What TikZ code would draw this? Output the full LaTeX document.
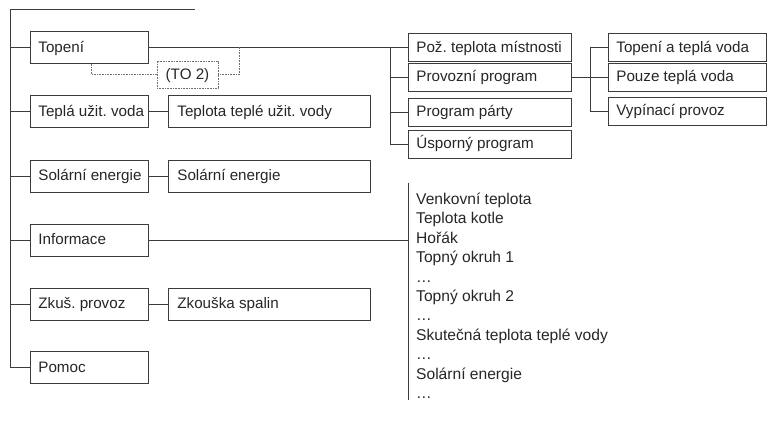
\documentclass[tikz,border=0pt]{standalone}
\usepackage{fontspec}
\setmainfont{Liberation Sans}
\frenchspacing
\definecolor{linec}{HTML}{3C3C3C}
\definecolor{txtc}{HTML}{262626}
\definecolor{dotc}{HTML}{707070}
\tikzset{
  conn/.style={draw=linec, line width=0.8pt},
  dotline/.style={draw=dotc, line width=0.7pt, dash pattern=on 0.8pt off 0.8pt},
  txtfont/.style={font=\fontsize{15.2}{18}\selectfont, text=txtc},
  box/.style={draw=linec, line width=0.8pt, anchor=west, inner xsep=8pt, inner ysep=0pt,
    txtfont, text height=1.16em, text depth=0.18em},
  fixw/.style={execute at begin node={\hbox to #1\bgroup}, execute at end node={\hss\egroup}},
  colA/.style={box, fixw=102pt, minimum height=32pt},
  colB/.style={box, fixw=184pt, inner xsep=9pt, minimum height=32pt},
  lvltwo/.style={box, fixw=147pt, minimum height=28pt},
  lvlthree/.style={box, fixw=142pt, minimum height=28pt},
  tobox/.style={draw=dotc, line width=0.7pt, dash pattern=on 0.8pt off 0.8pt,
    minimum width=61pt, minimum height=27pt, inner sep=0pt, txtfont,
    text height=1.16em, text depth=0.18em},
  infotext/.style={anchor=base west, inner sep=0pt, font=\fontsize{15.6}{18}\selectfont, text=txtc}
}
\begin{document}
\begin{tikzpicture}[x=1pt,y=-1pt]
\useasboundingbox (0,0) rectangle (768,428);

% first column
\node[colA] (topeni) at (30,47.5) {Topení};
\node[colA] (tuv) at (30,111.7) {Teplá užit. voda};
\node[colA] (sol) at (30,176) {Solární energie};
\node[colA] (info) at (30,240) {Informace};
\node[colA] (zkus) at (30,304) {Zkuš. provoz};
\node[colA] (pomoc) at (30,367.5) {Pomoc};

% second column
\node[colB] (tuv2) at (168,111.7) {Teplota teplé užit. vody};
\node[colB] (sol2) at (168,176) {Solární energie};
\node[colB] (zk2) at (168,304) {Zkouška spalin};

% heating submenu
\node[lvltwo] (poz) at (408,47.5) {Pož. teplota místnosti};
\node[lvltwo] (prov) at (408,77) {Provozní program};
\node[lvltwo] (party) at (408,112) {Program párty};
\node[lvltwo] (usp) at (408,144) {Úsporný program};

\node[lvlthree] (tatv) at (608,47.5) {Topení a teplá voda};
\node[lvlthree] (pouze) at (608,77) {Pouze teplá voda};
\node[lvlthree] (vyp) at (608,111) {Vypínací provoz};

% (TO 2)
\node[tobox] (to2) at (187.5,74.5) {(TO 2)};

% trunk
\coordinate (tr0) at (10.5,9.3);
\coordinate (trE) at (195,9.3);
\draw[conn] (trE) -- (tr0) |- (pomoc.west);
\foreach \n in {topeni,tuv,sol,info,zkus} \draw[conn] (tr0 |- \n.west) -- (\n.west);

\draw[conn] (tuv.east) -- (tuv2.west);
\draw[conn] (sol.east) -- (sol2.west);
\draw[conn] (zkus.east) -- (zk2.west);

% heating branch
\coordinate (jtwo) at (390,0);
\draw[conn] (topeni.east) -- (poz.west);
\draw[conn] (jtwo |- poz.west) |- (usp.west);
\foreach \n in {prov,party} \draw[conn] (jtwo |- \n.west) -- (\n.west);

\coordinate (jthree) at (590,0);
\draw[conn] (prov.east) -- (pouze.west);
\draw[conn] (jthree |- tatv.west) -- (tatv.west);
\draw[conn] (jthree |- tatv.west) |- (vyp.west);

% dotted link to (TO 2)
\coordinate (dj) at (239.5,47.5);
\draw[dotline] ([xshift=61.5pt]topeni.south west) |- (to2.west);
\draw[dotline] (to2.east) -| (dj);

% information list
\coordinate (ibtop) at (408,183);
\coordinate (ibbot) at (408,400);
\draw[conn] (ibtop) -- (ibbot);
\draw[conn] (info.east) -- (info.east -| ibtop);
\foreach \t [count=\i] in {Venkovní teplota,Teplota kotle,Hořák,Topný okruh 1,…,Topný okruh 2,…,Skutečná teplota teplé vody,…,Solární energie,…}
  \node[infotext] (inf\i) at (416,{204.5+19.4*(\i-1)}) {\t};
\end{tikzpicture}
\end{document}
